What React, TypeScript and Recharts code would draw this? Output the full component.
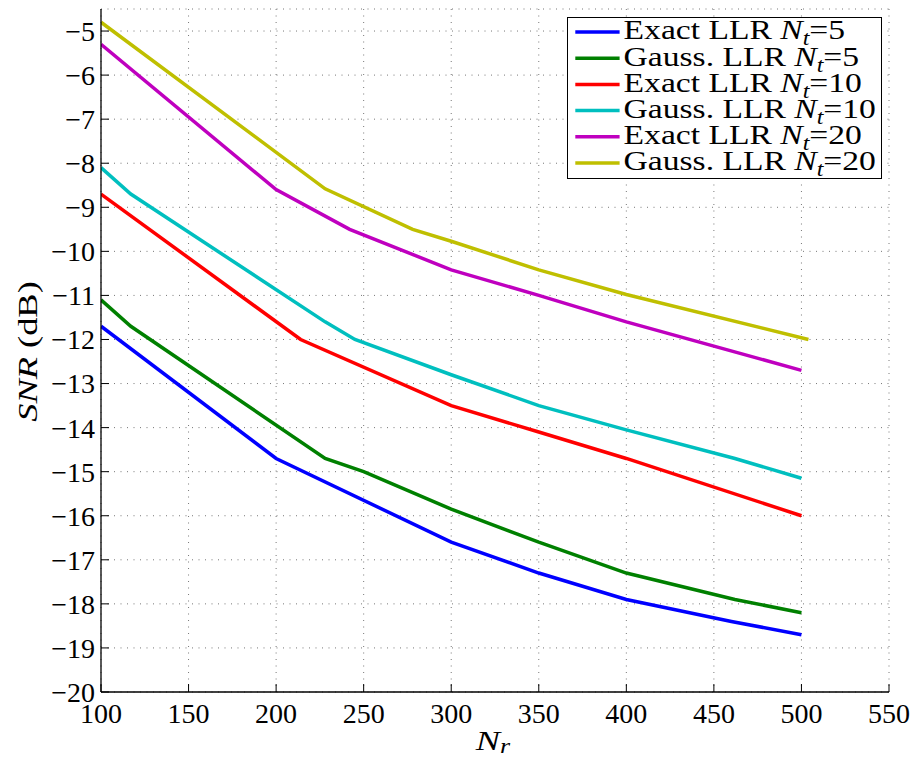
import React from 'react';
import { LineChart, Line, XAxis, YAxis, CartesianGrid, Legend, Label } from 'recharts';

// Axis ticks
const nrTicks = [100, 150, 200, 250, 300, 350, 400, 450, 500, 550];
const snrTicks = [-20, -19, -18, -17, -16, -15, -14, -13, -12, -11, -10, -9, -8, -7, -6, -5];

// Exact LLR, Nt = 5
const exact5Nr = [100, 200, 300, 350, 400, 460, 500];
const exact5Snr = [-11.7, -14.7, -16.6, -17.3, -17.9, -18.4, -18.7];

// Gaussian LLR, Nt = 5
const gauss5Nr = [100, 117, 228, 250, 300, 350, 400, 462, 500];
const gauss5Snr = [-11.1, -11.7, -14.7, -15.0, -15.85, -16.6, -17.3, -17.9, -18.2];

// Exact LLR, Nt = 10
const exact10Nr = [100, 214, 300, 350, 400, 500];
const exact10Snr = [-8.7, -12.0, -13.5, -14.1, -14.7, -16.0];

// Gaussian LLR, Nt = 10
const gauss10Nr = [100, 117, 228, 245, 300, 350, 400, 462, 500];
const gauss10Snr = [-8.1, -8.7, -11.6, -12.0, -12.8, -13.5, -14.05, -14.7, -15.15];

// Exact LLR, Nt = 20
const exact20Nr = [100, 200, 242, 300, 350, 400, 500];
const exact20Snr = [-5.3, -8.6, -9.5, -10.42, -11.0, -11.6, -12.7];

// Gaussian LLR, Nt = 20
const gauss20Nr = [100, 228, 278, 300, 350, 400, 504];
const gauss20Snr = [-4.8, -8.58, -9.5, -9.77, -10.42, -10.98, -12.0];

const toPoints = (nr: number[], snr: number[]) => nr.map((n, i) => ({ nr: n, snr: snr[i] }));

const series = [
  { name: 'Exact LLR', nt: '5', color: '#0000FF', data: toPoints(exact5Nr, exact5Snr) },
  { name: 'Gauss. LLR', nt: '5', color: '#008000', data: toPoints(gauss5Nr, gauss5Snr) },
  { name: 'Exact LLR', nt: '10', color: '#FF0000', data: toPoints(exact10Nr, exact10Snr) },
  { name: 'Gauss. LLR', nt: '10', color: '#00BFBF', data: toPoints(gauss10Nr, gauss10Snr) },
  { name: 'Exact LLR', nt: '20', color: '#BF00BF', data: toPoints(exact20Nr, exact20Snr) },
  { name: 'Gauss. LLR', nt: '20', color: '#BFBF00', data: toPoints(gauss20Nr, gauss20Snr) },
];

const FONT = '"Liberation Serif", "Times New Roman", serif';
const FS = 28;
const TICK_LEN = 8;

const fmt = (v: number) => (v < 0 ? '\u2212' + Math.abs(v) : String(v));

const BottomTick = (props: any) => {
  const { x, y, payload } = props;
  const ay = y - 11;
  return (
    <g>
      <line x1={x} y1={ay} x2={x} y2={ay - TICK_LEN} stroke="#000" strokeWidth={1} />
      <text x={x} y={y} dy="0.71em" textAnchor="middle" fontFamily={FONT} fontSize={FS} fill="#000">
        {fmt(payload.value)}
      </text>
    </g>
  );
};

const TopTick = (props: any) => {
  const { x, y } = props;
  return <line x1={x} y1={y} x2={x} y2={y + TICK_LEN} stroke="#000" strokeWidth={1} />;
};

const LeftTick = (props: any) => {
  const { x, y, payload } = props;
  const ax = x + 6;
  return (
    <g>
      <line x1={ax} y1={y} x2={ax + TICK_LEN} y2={y} stroke="#000" strokeWidth={1} />
      <text x={x} y={y} dy="0.355em" textAnchor="end" fontFamily={FONT} fontSize={FS} fill="#000">
        {fmt(payload.value)}
      </text>
    </g>
  );
};

const RightTick = (props: any) => {
  const { x, y } = props;
  return <line x1={x} y1={y} x2={x - TICK_LEN} y2={y} stroke="#000" strokeWidth={1} />;
};

// Math-style titles are set a little wider than the plain serif face
const TITLE_STRETCH = 1.3;

const YTitle = (props: any) => {
  const vb = props.viewBox || { x: 41, y: 9, width: 60, height: 683 };
  const cx = vb.x - 4;
  const cy = vb.y + vb.height / 2 + 1;
  return (
    <g transform={`translate(${cx}, ${cy}) rotate(-90) scale(${TITLE_STRETCH}, 1)`}>
      <text x={0} y={0} textAnchor="middle" fontFamily={FONT} fontSize={FS} fill="#000">
        <tspan fontStyle="italic">SNR</tspan>
        <tspan> (dB)</tspan>
      </text>
    </g>
  );
};

const XTitle = (props: any) => {
  const vb = props.viewBox || { x: 101, y: 692, width: 788, height: 60 };
  const cx = vb.x + vb.width / 2 - 2;
  const by = vb.y + 58;
  return (
    <g transform={`translate(${cx}, ${by}) scale(${TITLE_STRETCH}, 1)`}>
      <text x={0} y={0} textAnchor="middle" fontFamily={FONT} fontSize={FS} fill="#000">
        <tspan fontStyle="italic">N</tspan>
        <tspan fontStyle="italic" fontSize={20} dy={2.5}>r</tspan>
      </text>
    </g>
  );
};

const LEG_W = 315;
const LEG_H = 162;
const LEG_PAD = 12;

const LegendBox = () => (
  <svg width={LEG_W + 2 * LEG_PAD} height={LEG_H + 2 * LEG_PAD} style={{ display: 'block', overflow: 'visible' }}>
    <g transform={`translate(${LEG_PAD}, ${LEG_PAD})`}>
      <rect x={0.5} y={0.5} width={LEG_W - 1} height={LEG_H - 1} fill="#fff" stroke="#000" strokeWidth={1} />
      {series.map((s, i) => {
        const cy = 15 + i * 26.2;
        return (
          <g key={i}>
            <line x1={8.3} y1={cy} x2={52.6} y2={cy} stroke={s.color} strokeWidth={3.5} />
            <g transform={`translate(56.6, ${cy + 7.3}) scale(1.2, 1)`}>
              <text x={0} y={0} fontFamily={FONT} fontSize={FS} fill="#000">
                <tspan>{s.name} </tspan>
                <tspan fontStyle="italic">N</tspan>
                <tspan fontStyle="italic" fontSize={20} dy={6}>t</tspan>
                <tspan dy={-6}>={s.nt}</tspan>
              </text>
            </g>
          </g>
        );
      })}
    </g>
  </svg>
);

export default function App() {
  return (
    <div style={{ position: 'absolute', left: 0, top: 0, width: 915, height: 758, background: '#fff' }}>
      <LineChart width={915} height={758} margin={{ top: 9, right: 26, bottom: 6, left: 41 }}>
        <CartesianGrid
          xAxisId="bottom"
          yAxisId="left"
          stroke="#777"
          strokeDasharray="1 5.5"
          strokeWidth={1}
        />
        <XAxis
          xAxisId="bottom"
          dataKey="nr"
          type="number"
          domain={[100, 550]}
          ticks={nrTicks}
          allowDataOverflow
          height={60}
          tickSize={0}
          tickMargin={11}
          axisLine={{ stroke: '#000', strokeWidth: 1.3 }}
          tickLine={false}
          tick={<BottomTick />}
          interval={0}
        >
          <Label content={<XTitle />} />
        </XAxis>
        <XAxis
          xAxisId="top"
          orientation="top"
          type="number"
          domain={[100, 550]}
          ticks={nrTicks}
          allowDataOverflow
          height={0}
          tickSize={0}
          tickMargin={0}
          axisLine={{ stroke: '#000', strokeWidth: 1.3 }}
          tickLine={false}
          tick={<TopTick />}
          interval={0}
        />
        <YAxis
          yAxisId="left"
          type="number"
          domain={[-20, -4.5]}
          ticks={snrTicks}
          allowDataOverflow
          width={60}
          tickSize={0}
          tickMargin={6}
          axisLine={{ stroke: '#000', strokeWidth: 1.3 }}
          tickLine={false}
          tick={<LeftTick />}
          interval={0}
        >
          <Label content={<YTitle />} />
        </YAxis>
        <YAxis
          yAxisId="right"
          orientation="right"
          type="number"
          domain={[-20, -4.5]}
          ticks={snrTicks}
          allowDataOverflow
          width={0}
          tickSize={0}
          tickMargin={0}
          axisLine={{ stroke: '#000', strokeWidth: 1.3 }}
          tickLine={false}
          tick={<RightTick />}
          interval={0}
        />
        {series.map((s, i) => (
          <Line
            key={i}
            xAxisId="bottom"
            yAxisId="left"
            data={s.data}
            dataKey="snr"
            type="linear"
            stroke={s.color}
            strokeWidth={3.5}
            dot={false}
            activeDot={false}
            isAnimationActive={false}
            name={`${s.name} Nt=${s.nt}`}
          />
        ))}
        <Legend
          layout="horizontal"
          verticalAlign="middle"
          align="center"
          wrapperStyle={{
            left: 566.5 - LEG_PAD,
            top: 16.5 - LEG_PAD,
            width: LEG_W + 2 * LEG_PAD,
            height: LEG_H + 2 * LEG_PAD,
          }}
          content={() => <LegendBox />}
        />
      </LineChart>
    </div>
  );
}
